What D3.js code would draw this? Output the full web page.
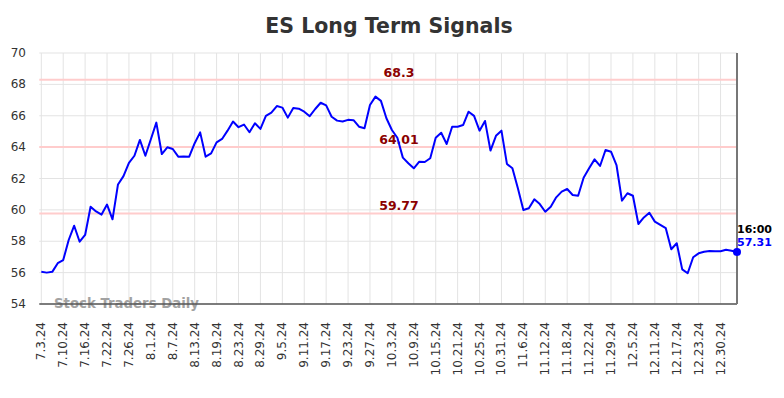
<!DOCTYPE html>
<html><head><meta charset="utf-8">
<script src="https://cdn.jsdelivr.net/npm/d3@7/dist/d3.min.js"></script>
<style>body{margin:0;background:#fff;}svg{display:block;font-family:"DejaVu Sans",sans-serif;}</style>
</head><body><div id="chart"></div>
<script>
const title = "ES Long Term Signals";
const tickLabels = ["7.3.24","7.10.24","7.16.24","7.22.24","7.26.24","8.1.24","8.7.24","8.13.24","8.19.24","8.23.24","8.29.24","9.5.24","9.11.24","9.17.24","9.23.24","9.27.24","10.3.24","10.9.24","10.15.24","10.21.24","10.25.24","10.31.24","11.6.24","11.12.24","11.18.24","11.22.24","11.29.24","12.5.24","12.11.24","12.17.24","12.23.24","12.30.24"];
const tickStep = 4;
const values = [56.05,56.0,56.05,56.6,56.8,58.08,58.99,57.97,58.4,60.2,
59.9,59.7,60.34,59.4,61.62,62.15,63.0,63.45,64.46,63.45,
64.5,65.56,63.56,63.99,63.88,63.39,63.4,63.39,64.25,64.94,
63.39,63.6,64.3,64.52,65.05,65.63,65.27,65.44,64.95,65.52,
65.16,65.99,66.2,66.62,66.52,65.88,66.5,66.45,66.26,65.97,
66.43,66.83,66.66,65.94,65.69,65.63,65.74,65.72,65.3,65.2,
66.69,67.22,66.95,65.84,65.09,64.6,63.33,62.97,62.65,63.07,
63.05,63.29,64.6,64.92,64.2,65.3,65.3,65.41,66.26,65.99,
65.05,65.67,63.78,64.72,65.05,62.93,62.65,61.38,59.99,60.1,
60.67,60.37,59.88,60.2,60.8,61.16,61.33,60.95,60.9,62.05,
62.65,63.22,62.8,63.82,63.71,62.86,60.59,61.06,60.9,59.1,
59.52,59.82,59.25,59.04,58.83,57.49,57.87,56.21,55.96,56.98,
57.23,57.33,57.38,57.36,57.36,57.46,57.4,57.31];
const levels = [68.3, 64.01, 59.77];
const levelLabels = ["68.3","64.01","59.77"];
const yTicks = [54,56,58,60,62,64,66,68,70];
const lastTime = "16:00";
const lastLabel = "57.31";
const watermark = "Stock Traders Daily";

const W = 784, H = 398;
const m = {left: 41.3, right: 47, top: 53, bottom: 94};
const svg = d3.select("#chart").append("svg").attr("width", W).attr("height", H);

const x = d3.scaleLinear().domain([0, values.length - 1]).range([m.left, W - m.right]);
const y = d3.scaleLinear().domain([54, 70]).range([H - m.bottom, m.top]);

svg.append("text").attr("x", 389).attr("y", 33).attr("text-anchor", "middle")
  .attr("font-size", 20.5).attr("font-weight", "bold").attr("fill", "#333").text(title);

// grid
const tickIdx = tickLabels.map((d, i) => i * tickStep);
svg.append("g").selectAll("line").data(tickIdx).join("line")
  .attr("x1", d => x(d)).attr("x2", d => x(d)).attr("y1", y(70)).attr("y2", y(54))
  .attr("stroke", "#e3e3e3").attr("stroke-width", 1);
svg.append("g").selectAll("line").data(yTicks).join("line")
  .attr("x1", x(0) - 2).attr("x2", x(values.length - 1)).attr("y1", d => y(d)).attr("y2", d => y(d))
  .attr("stroke", "#e3e3e3").attr("stroke-width", 1);

// y labels
svg.append("g").selectAll("text").data(yTicks).join("text")
  .attr("x", 26).attr("y", d => y(d) + 4).attr("text-anchor", "end")
  .attr("font-size", 12).attr("fill", "#333").text(d => d);

// x labels
svg.append("g").selectAll("text").data(tickLabels).join("text")
  .attr("transform", (d, i) => `translate(${x(i * tickStep) + 4},${y(54) + 18}) rotate(-90)`)
  .attr("text-anchor", "end").attr("font-size", 12).attr("fill", "#333").text(d => d);

// levels
svg.append("g").selectAll("line").data(levels).join("line")
  .attr("x1", x(0) - 2).attr("x2", x(values.length - 1)).attr("y1", d => y(d)).attr("y2", d => y(d))
  .attr("stroke", "#ffcccc").attr("stroke-width", 2);
svg.append("g").selectAll("text").data(levels).join("text")
  .attr("x", 399).attr("y", d => y(d) - 3).attr("text-anchor", "middle")
  .attr("font-size", 12.5).attr("font-weight", "bold").attr("fill", "#8b0000")
  .text((d, i) => levelLabels[i]);

// watermark
svg.append("text").attr("x", 54).attr("y", 308).attr("font-size", 13.3).attr("font-weight", "bold")
  .attr("fill", "#999").attr("opacity", 0.9).text(watermark);

// axes lines
svg.append("line").attr("x1", x(0) - 2).attr("x2", x(values.length - 1)).attr("y1", y(54)).attr("y2", y(54))
  .attr("stroke", "#555").attr("stroke-width", 1.5);
svg.append("line").attr("x1", x(values.length - 1)).attr("x2", x(values.length - 1)).attr("y1", y(70)).attr("y2", y(54))
  .attr("stroke", "#777").attr("stroke-width", 2);

// line
svg.append("path").datum(values)
  .attr("d", d3.line().x((d, i) => x(i)).y(d => y(d)))
  .attr("fill", "none").attr("stroke", "#0000ff").attr("stroke-width", 2).attr("stroke-linejoin", "round");

const li = values.length - 1;
svg.append("circle").attr("cx", x(li)).attr("cy", y(values[li])).attr("r", 4).attr("fill", "#0000ff");
svg.append("text").attr("x", x(li)).attr("y", y(values[li]) - 19).attr("font-size", 11)
  .attr("font-weight", "bold").attr("fill", "#000").text(lastTime);
svg.append("text").attr("x", x(li)).attr("y", y(values[li]) - 6).attr("font-size", 11)
  .attr("font-weight", "bold").attr("fill", "#0000ff").text(lastLabel);
</script></body></html>
